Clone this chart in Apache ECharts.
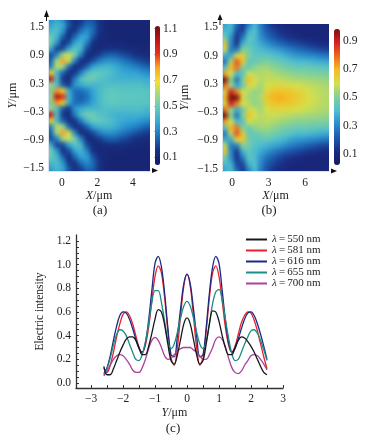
<!DOCTYPE html>
<html><head><meta charset="utf-8">
<style>
html,body{margin:0;padding:0;background:#fff;width:367px;height:441px;overflow:hidden}
.clip{position:absolute;overflow:hidden}
.heat{position:absolute;filter:blur(2px)}
#main{position:absolute;left:0;top:0;width:367px;height:441px;filter:blur(0.3px)}
</style>
<script src="https://cdn.jsdelivr.net/npm/echarts@6/dist/echarts.min.js"></script>
</head><body>
<div class="clip" style="left:48px;top:20px;width:102px;height:151px"><div id="ha" class="heat" style="left:-6px;top:-4px;width:114px;height:162px"></div></div>
<div class="clip" style="left:222px;top:24px;width:107px;height:147px"><div id="hb" class="heat" style="left:-6px;top:-7px;width:120px;height:162px"></div></div>
<div id="main"></div>
<script>
// Panel (a) intensity, hundredths, rows top to bottom, columns left to right
const heatA = [
[30,32,36,30,18,13,15,20,20,14,11,10,10,10,10,10,10,10,10],
[32,36,42,38,22,14,18,26,24,16,11,10,10,10,10,10,10,10,10],
[38,42,44,34,16,16,26,32,26,16,11,10,10,10,10,10,10,10,10],
[56,48,42,24,12,25,36,36,22,14,12,10,10,10,10,10,10,10,10],
[66,50,34,14,20,36,42,30,15,12,12,11,11,11,10,10,10,10,10],
[56,38,18,20,36,46,42,20,13,12,14,15,15,14,13,12,11,11,11],
[30,20,30,58,64,52,30,14,13,17,22,24,23,20,18,15,14,13,13],
[20,24,58,80,64,30,14,14,20,28,32,33,31,28,25,22,19,17,16],
[28,30,62,58,25,14,16,24,36,40,42,41,38,34,32,30,27,24,22],
[92,70,42,24,15,16,28,42,48,48,46,44,40,38,36,36,34,32,30],
[116,98,44,16,13,28,44,50,50,46,44,42,40,40,40,40,40,38,38],
[72,56,44,22,16,34,38,42,42,42,44,44,44,44,44,44,44,42,42],
[42,52,82,72,38,26,26,30,36,42,46,47,47,46,46,46,46,46,44],
[40,60,104,92,42,26,23,26,35,42,46,48,48,47,47,47,46,46,44],
[42,52,82,72,38,26,26,30,36,42,46,47,47,46,46,46,46,46,44],
[72,56,44,22,16,34,38,42,42,42,44,44,44,44,44,44,44,42,42],
[116,98,44,16,13,28,44,50,50,46,44,42,40,40,40,40,40,38,38],
[92,70,42,24,15,16,28,42,48,48,46,44,40,38,36,36,34,32,30],
[28,30,62,58,25,14,16,24,36,40,42,41,38,34,32,30,27,24,22],
[20,24,58,80,64,30,14,14,20,28,32,33,31,28,25,22,19,17,16],
[30,20,30,58,64,52,30,14,13,17,22,24,23,20,18,15,14,13,13],
[56,38,18,20,36,46,42,20,13,12,14,15,15,14,13,12,11,11,11],
[66,50,34,14,20,36,42,30,15,12,12,11,11,11,10,10,10,10,10],
[56,48,42,24,12,25,36,36,22,14,12,10,10,10,10,10,10,10,10],
[38,42,44,34,16,16,26,32,26,16,11,10,10,10,10,10,10,10,10],
[32,36,42,38,22,14,18,26,24,16,11,10,10,10,10,10,10,10,10],
[30,32,36,30,18,13,15,20,20,14,11,10,10,10,10,10,10,10,10]
];
// Panel (b) intensity, hundredths
const heatB = [
[28,34,40,30,16,24,38,30,18,12,10,10,10,10,10,10,10,10,10,10],
[30,36,40,24,14,30,40,28,20,14,12,11,10,10,10,10,10,10,10,10],
[34,40,38,18,18,38,42,30,22,18,14,12,11,10,10,10,10,10,10,10],
[52,48,32,13,28,44,40,32,26,22,18,15,13,12,11,10,10,10,10,10],
[80,64,30,14,38,44,40,36,32,28,25,22,20,18,16,14,13,12,11,11],
[72,58,28,28,50,48,42,40,38,36,34,31,28,26,24,22,20,18,17,16],
[42,36,36,62,66,48,44,44,44,42,40,38,35,33,32,31,30,28,27,26],
[30,26,56,82,66,44,46,48,50,48,46,44,42,40,40,39,38,37,36,35],
[36,42,70,78,50,46,52,54,54,52,50,49,47,46,46,46,45,44,44,43],
[84,72,60,40,42,60,56,56,57,56,54,53,52,51,51,50,50,50,49,48],
[114,104,52,26,50,68,60,56,58,58,58,57,56,55,55,54,54,53,53,52],
[96,78,54,36,46,62,58,54,60,62,62,62,61,60,59,58,57,56,55,55],
[50,62,90,76,60,56,52,54,63,67,68,67,66,64,62,60,58,57,56,56],
[40,70,114,106,62,54,52,56,66,70,71,70,68,66,63,61,59,57,56,56],
[50,62,90,76,60,56,52,54,63,67,68,67,66,64,62,60,58,57,56,56],
[96,78,54,36,46,62,58,54,60,62,62,62,61,60,59,58,57,56,55,55],
[114,104,52,26,50,68,60,56,58,58,58,57,56,55,55,54,54,53,53,52],
[84,72,60,40,42,60,56,56,57,56,54,53,52,51,51,50,50,50,49,48],
[36,42,70,78,50,46,52,54,54,52,50,49,47,46,46,46,45,44,44,43],
[30,26,56,82,66,44,46,48,50,48,46,44,42,40,40,39,38,37,36,35],
[42,36,36,62,66,48,44,44,44,42,40,38,35,33,32,31,30,28,27,26],
[72,58,28,28,50,48,42,40,38,36,34,31,28,26,24,22,20,18,17,16],
[80,64,30,14,38,44,40,36,32,28,25,22,20,18,16,14,13,12,11,11],
[52,48,32,13,28,44,40,32,26,22,18,15,13,12,11,10,10,10,10,10],
[34,40,38,18,18,38,42,30,22,18,14,12,11,10,10,10,10,10,10,10],
[30,36,40,24,14,30,40,28,20,14,12,11,10,10,10,10,10,10,10,10],
[28,34,40,30,16,24,38,30,18,12,10,10,10,10,10,10,10,10,10,10]
];
// Panel (c)
const yPos = [-2.6,-2.5,-2.4,-2.3,-2.2,-2.1,-2.0,-1.9,-1.8,-1.7,-1.6,-1.5,-1.4,-1.3,-1.2,-1.1,-1.0,-0.9,-0.8,-0.7,-0.6,-0.5,-0.4,-0.3,-0.2,-0.1,0,0.1,0.2,0.3,0.4,0.5,0.6,0.7,0.8,0.9,1.0,1.1,1.2,1.3,1.4,1.5,1.6,1.7,1.8,1.9,2.0,2.1,2.2,2.3,2.4,2.5];
const i550 = [.14,.07,.07,.12,.19,.26,.32,.37,.39,.39,.36,.30,.24,.24,.31,.42,.54,.62,.60,.49,.33,.19,.16,.24,.37,.50,.55,.50,.37,.24,.16,.19,.33,.50,.61,.60,.52,.40,.30,.24,.24,.30,.36,.39,.38,.35,.31,.26,.20,.14,.09,.07];
const i581 = [.13,.09,.15,.26,.39,.50,.58,.60,.57,.50,.40,.30,.26,.32,.47,.69,.90,.99,.93,.72,.44,.21,.15,.30,.57,.82,.92,.82,.57,.30,.15,.21,.44,.72,.93,.99,.90,.69,.47,.32,.26,.31,.41,.51,.57,.60,.59,.53,.44,.33,.22,.12];
const i616 = [.08,.13,.23,.36,.48,.57,.60,.59,.54,.46,.37,.29,.26,.34,.53,.78,1.01,1.07,.98,.76,.47,.24,.22,.40,.63,.84,.92,.84,.63,.40,.22,.24,.47,.76,.98,1.07,1.01,.78,.53,.34,.26,.29,.37,.46,.54,.59,.60,.57,.50,.41,.31,.20];
const i655 = [.07,.12,.21,.32,.41,.45,.44,.40,.33,.26,.20,.19,.24,.35,.50,.68,.78,.78,.68,.52,.36,.29,.33,.43,.55,.65,.69,.65,.55,.43,.33,.29,.35,.50,.67,.77,.79,.70,.54,.38,.25,.19,.20,.26,.33,.39,.44,.45,.42,.36,.28,.19];
const i700 = [.06,.10,.15,.20,.23,.24,.23,.20,.16,.11,.09,.09,.13,.20,.29,.36,.385,.36,.30,.23,.20,.21,.24,.27,.29,.30,.30,.30,.28,.26,.23,.20,.20,.24,.30,.37,.39,.37,.30,.21,.13,.09,.08,.10,.15,.19,.23,.24,.23,.20,.16,.11];
const wavelengths = ['550','581','616','655','700'];
const lineColors = ['#14181c','#e8202c','#1c2a84','#1a8f86','#a8429c'];
const lineValues = [i550,i581,i616,i655,i700];
// Tick lists
const xTicksA = [0,2,4], xTicksB = [0,3,6], yTicks = [-1.5,-0.9,-0.3,0.3,0.9,1.5];
const barTicksA = [0.1,0.3,0.5,0.7,0.9,1.1], barTicksB = [0.1,0.3,0.5,0.7,0.9];
const xTicksC = [-3,-2,-1,0,1,2,3], yTicksC = [0,0.2,0.4,0.6,0.8,1.0,1.2];
const xMinorC = [-3,-2.5,-2,-1.5,-1,-0.5,0,0.5,1,1.5,2,2.5,3];
const yMinorC = [0,.05,.1,.15,.2,.25,.3,.35,.4,.45,.5,.55,.6,.65,.7,.75,.8,.85,.9,.95,1,1.05,1.1,1.15,1.2];
const paletteA = ['#171a63','#172f82','#1a6cb8','#33a5d6','#5ec8c0','#9ed88a','#f2e22a','#f8a81e','#e8321e','#c01418','#6b0f12'];
const paletteB = ['#171a5c','#1a2a80','#1b58ac','#2a8ccd','#4fbfd0','#7fd09a','#d6df4a','#f5bb22','#ec6a1e','#d81f1f','#7c0f14'];
const rangeA = [0.04,1.12], rangeB = [0.02,0.985];

const serif = '"Liberation Serif","Times New Roman",serif';
const ink = '#222';
const minus = v => String(v < 0 ? '\u2212' + Math.abs(v) : v);
const fix1 = v => { const s = Math.abs(v).toFixed(1); return (v < 0 ? '\u2212' : '') + s; };

function heat(id, rows, range, palette){
  const c = echarts.init(document.getElementById(id), null, {renderer:'canvas'});
  const data = [];
  rows.forEach((r, y) => r.forEach((v, x) => data.push([x, y, v / 100])));
  c.setOption({
    animation:false,
    grid:{left:0,right:0,top:0,bottom:0},
    xAxis:{type:'category',show:false,data:rows[0].map((_, i) => i)},
    yAxis:{type:'category',show:false,inverse:true,data:rows.map((_, i) => i)},
    visualMap:{show:false,min:range[0],max:range[1],inRange:{color:palette}},
    series:[{type:'heatmap',data:data,itemStyle:{borderWidth:0},emphasis:{disabled:true}}]
  });
}
heat('ha', heatA, rangeA, paletteA);
heat('hb', heatB, rangeB, paletteB);

const lab = (size) => ({color:ink,fontFamily:serif,fontSize:size});
const nameRich = {i:{fontFamily:serif,fontStyle:'italic',fontSize:12,color:ink},n:{fontFamily:serif,fontSize:12,color:ink}};
const plotAxisLine = {show:true,onZero:false,lineStyle:{color:'#d9e2e6',width:1}};

function xPlot(gi,min,max,ticks,nm,gap){return {type:'value',gridIndex:gi,min,max,splitLine:{show:false},
  axisLine:plotAxisLine,axisTick:{show:false},
  axisLabel:Object.assign(lab(11.5),{customValues:ticks,margin:6,formatter:minus}),
  name:nm,nameLocation:'middle',nameGap:gap,nameTextStyle:{rich:nameRich}};}
function yPlot(gi,min,max,nm,gap){return {type:'value',gridIndex:gi,min,max,splitLine:{show:false},
  axisLine:plotAxisLine,axisTick:{show:false},
  axisLabel:Object.assign(lab(11.5),{customValues:yTicks,margin:4,formatter:fix1}),
  name:nm,nameLocation:'middle',nameGap:gap,nameRotate:90,nameTextStyle:{rich:nameRich}};}
function xHidden(gi){return {type:'value',gridIndex:gi,show:false,min:0,max:1};}
function yBar(gi,range,ticks){return {type:'value',gridIndex:gi,position:'right',min:range[0],max:range[1],splitLine:{show:false},
  axisLine:{show:false,onZero:false},axisTick:{show:true,customValues:ticks,inside:true,length:6,lineStyle:{color:'rgba(0,0,0,0.3)',width:1}},
  axisLabel:Object.assign(lab(11.5),{customValues:ticks,margin:3,formatter:v=>v.toFixed(1)})};}
const ymu = '{i|Y}{n|/\u03bcm}', xmu = '{i|X}{n|/\u03bcm}';

const arrows = (x0,tipY,baseY,lineEndY,y0,tipX,baseX) => [
  {type:'polygon',shape:{points:[[x0,tipY],[x0-2.5,baseY],[x0+2.5,baseY]]},style:{fill:'#111'}},
  {type:'line',shape:{x1:x0,y1:baseY,x2:x0,y2:lineEndY},style:{stroke:'#111',lineWidth:1}},
  {type:'polygon',shape:{points:[[tipX,y0],[baseX,y0-2.5],[baseX,y0+2.5]]},style:{fill:'#111'}}
];
const cap = (t,x,y) => ({type:'text',x:x,y:y,style:{text:t,font:'13px '+serif,fill:ink,textAlign:'center',textVerticalAlign:'middle'}});

const chart = echarts.init(document.getElementById('main'), null, {renderer:'canvas'});
chart.setOption({
  animation:false,
  grid:[
    {left:48,top:20,width:102,height:151},
    {left:155,top:26,width:5,height:139},
    {left:222,top:24,width:107,height:147},
    {left:334,top:29,width:6,height:136},
    {left:76,top:235,width:207,height:153}
  ],
  xAxis:[
    xPlot(0,-0.79,4.97,xTicksA,xmu,15),
    xHidden(1),
    xPlot(2,-0.82,7.95,xTicksB,xmu,16),
    xHidden(3),
    {type:'value',gridIndex:4,min:-3.47,max:3,splitLine:{show:false},
      axisLine:{onZero:false,lineStyle:{color:'#333',width:1.3}},
      axisTick:{customValues:xMinorC,inside:true,length:3,lineStyle:{color:'#333'}},
      axisLabel:Object.assign(lab(11.5),{customValues:xTicksC,margin:5,formatter:minus}),
      name:'{i|Y}{n|/\u03bcm}',nameLocation:'middle',nameGap:19,nameTextStyle:{rich:nameRich,padding:[0,10,0,0]}}
  ],
  yAxis:[
    yPlot(0,-1.56,1.65,ymu,29),
    yBar(1,rangeA,barTicksA),
    yPlot(2,-1.55,1.57,ymu,31),
    yBar(3,rangeB,barTicksB),
    {type:'value',gridIndex:4,min:-0.042,max:1.25,splitLine:{show:false},
      axisLine:{onZero:false,lineStyle:{color:'#333',width:1.3}},
      axisTick:{customValues:yMinorC,inside:true,length:3,lineStyle:{color:'#333'}},
      axisLabel:Object.assign(lab(11.5),{customValues:yTicksC,margin:5,formatter:v=>v.toFixed(1)}),
      name:'Electric intensity',nameLocation:'middle',nameGap:23,nameRotate:90,
      nameTextStyle:{fontFamily:serif,fontSize:11.5,color:ink}}
  ],
  visualMap:[
    {show:true,seriesIndex:99,calculable:false,min:rangeA[0],max:rangeA[1],left:155,top:26,itemWidth:5,itemHeight:139,padding:0,text:null,showLabel:false,inRange:{color:paletteA},textStyle:{fontSize:0}},
    {show:true,seriesIndex:99,calculable:false,min:rangeB[0],max:rangeB[1],left:334,top:29,itemWidth:6,itemHeight:136,padding:0,text:null,showLabel:false,inRange:{color:paletteB},textStyle:{fontSize:0}}
  ],
  legend:{left:241,top:229,orient:'vertical',itemWidth:21,itemHeight:2,itemGap:0,icon:'rect',
    formatter:n=>'{i|\u03bb}{t|\u2009=\u2009'+n+' nm}',
    textStyle:{rich:{i:{fontFamily:serif,fontStyle:'italic',fontSize:11,lineHeight:9.8,color:ink},t:{fontFamily:serif,fontSize:11,lineHeight:9.8,color:ink}}},
    data:wavelengths},
  graphic:[
    ...arrows(46.5,10,17,21,170.5,158,152),
    ...arrows(220,14,20,25,171,337,331),
    cap('(a)',100,211),cap('(b)',269,211),cap('(c)',173,429)
  ],
  series:wavelengths.map((w,i)=>({
    type:'line',name:w,xAxisIndex:4,yAxisIndex:4,smooth:0.35,showSymbol:false,
    lineStyle:{color:lineColors[i],width:1.3},itemStyle:{color:lineColors[i]},
    z:i===0?5:2,
    data:yPos.map((x,k)=>[x,lineValues[i][k]])
  }))
});
</script>
</body></html>
